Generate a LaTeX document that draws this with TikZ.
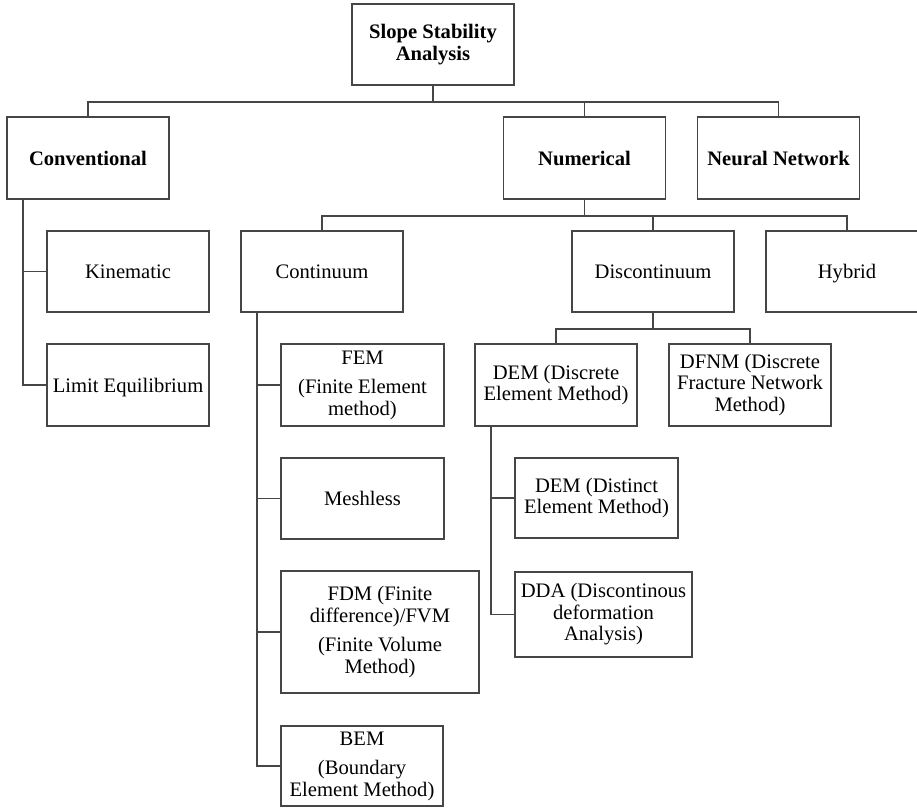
\documentclass[tikz,border=0pt]{standalone}
\usepackage{fontspec}
\setmainfont{Liberation Serif}
\newcommand{\nodepth}[1]{\raisebox{0pt}[\height][0pt]{#1}}
\begin{document}
\begin{tikzpicture}[x=1pt,y=-1pt,
  box/.style={draw=linegray, line width=1.9pt, rectangle, inner sep=0pt,
    minimum width=162pt, minimum height=81pt, align=center,
    font=\fontsize{20.6}{21.5}\selectfont, text=black},
  bbox/.style={box, font=\fontsize{20.6}{22}\selectfont\bfseries},
  conn/.style={draw=linegray, line width=1.9pt}
]
\definecolor{linegray}{RGB}{70,70,70}
\useasboundingbox (0,0) rectangle (917,807);
\clip (0,0) rectangle (917,807);
\fill[white] (0,0) rectangle (917,807);

% level 0
\node[bbox] (root) at (433,44.5) {Slope Stability\\Analysis};
% level 1
\node[bbox, minimum height=82pt] (conv) at (88,158) {Conventional};
\node[bbox, minimum height=82pt] (num) at (584.5,158) {Numerical};
\node[bbox, minimum height=82pt] (neural) at (778.5,158) {Neural Network};
% level 2
\node[box] (kin) at (128,271.5) {Kinematic};
\node[box, minimum height=82pt] (limit) at (128,385) {\nodepth{Limit Equilibrium}};
\node[box] (cont) at (322,271.5) {Continuum};
\node[box] (disc) at (653,271.5) {Discontinuum};
\node[box] (hyb) at (847,271.5) {\nodepth{Hybrid}};
% continuum children
\node[box, minimum width=163pt, minimum height=82pt] (fem) at (362.5,385) {FEM\\[8pt](Finite Element\\method)};
\node[box, minimum width=163pt] (mesh) at (362.5,498.5) {Meshless};
\node[box, minimum width=198pt, minimum height=122pt] (fdm) at (380,632) {FDM (Finite\\difference)/FVM\\[8pt](Finite Volume\\Method)};
\node[box, minimum height=80pt] (bem) at (362,766) {BEM\\[8pt](Boundary\\Element Method)};
% discontinuum children
\node[box, minimum height=82pt] (dem) at (556,385) {DEM (Discrete\\Element Method)};
\node[box, minimum height=82pt] (dfnm) at (750,385) {DFNM (Discrete\\Fracture Network\\Method)};
\node[box, minimum width=163pt, minimum height=80pt] (demd) at (596.5,498) {DEM (Distinct\\Element Method)};
\node[box, minimum width=177pt, minimum height=85pt] (dda) at (603.5,614.5) {DDA (Discontinous\\deformation\\Analysis)};

% connectors: root
\draw[conn] (root.south) -- ++(0,16) coordinate (rb);
\draw[conn] (conv.north) |- (rb) -| (neural.north);
\draw[conn] (num.north) -- (num.north |- rb);
% connectors: numerical
\draw[conn] (num.south) -- ++(0,16) coordinate (nb);
\draw[conn] (cont.north) |- (nb) -| (hyb.north);
\draw[conn] (disc.north) -- (disc.north |- nb);
% connectors: discontinuum
\draw[conn] (disc.south) -- ++(0,16) coordinate (db);
\draw[conn] (dem.north) |- (db) -| (dfnm.north);
% conventional trunk
\coordinate (ct) at ([xshift=17pt]conv.south west);
\draw[conn] (ct) |- (limit.west);
\draw[conn] (kin.west) -- (kin.west -| ct);
% continuum trunk
\coordinate (kt) at ([xshift=17pt]cont.south west);
\draw[conn] (kt) |- (bem.west);
\draw[conn] (fem.west) -- (fem.west -| kt);
\draw[conn] (mesh.west) -- (mesh.west -| kt);
\draw[conn] (fdm.west) -- (fdm.west -| kt);
% DEM trunk
\coordinate (dt) at ([xshift=17pt]dem.south west);
\draw[conn] (dt) |- (dda.west);
\draw[conn] (demd.west) -- (demd.west -| dt);
\end{tikzpicture}
\end{document}
